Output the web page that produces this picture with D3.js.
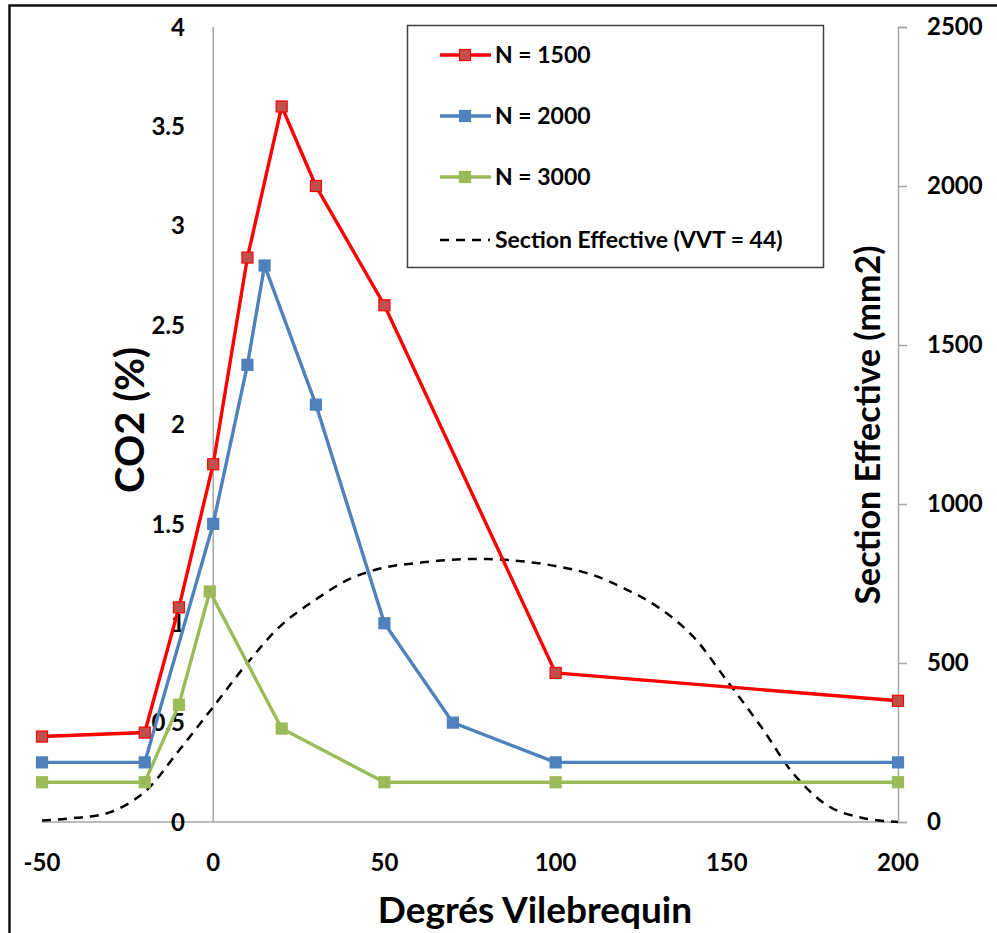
<!DOCTYPE html>
<html><head><meta charset="utf-8">
<script src="https://cdn.jsdelivr.net/npm/d3@7"></script>
<style>
body{margin:0;background:#fff;}
svg{display:block;}
text{font-family:Lato,"Open Sans",sans-serif;fill:#000;}
</style></head>
<body>
<svg id="chart" width="997" height="933"></svg>
<script>
// ---- data ----
const xTicks = [-50, 0, 50, 100, 150, 200];
const yLeftTicks = [0, 0.5, 1, 1.5, 2, 2.5, 3, 3.5, 4];
const yRightTicks = [0, 500, 1000, 1500, 2000, 2500];

const xN1500 = [-50, -20, -10, 0, 10, 20, 30, 50, 100, 200];
const yN1500 = [0.43, 0.45, 1.08, 1.80, 2.84, 3.60, 3.20, 2.60, 0.75, 0.61];
const xN2000 = [-50, -20, 0, 10, 15, 30, 50, 70, 100, 200];
const yN2000 = [0.30, 0.30, 1.50, 2.30, 2.80, 2.10, 1.00, 0.50, 0.30, 0.30];
const xN3000 = [-50, -20, -10, -1, 20, 50, 100, 200];
const yN3000 = [0.20, 0.20, 0.59, 1.16, 0.47, 0.20, 0.20, 0.20];

const xSection = [-50, -40, -30, -20, -10, 0, 10, 20, 30, 40, 50, 60, 70, 80, 90, 100, 110, 120, 130, 140, 150, 160, 170, 180, 190, 200];
const ySection = [5, 13, 31, 95, 225, 362, 500, 620, 700, 765, 800, 815, 825, 827, 820, 805, 780, 735, 675, 585, 445, 300, 145, 48, 12, 0];

const seriesNames = ["N = 1500", "N = 2000", "N = 3000", "Section Effective (VVT = 44)"];
const xTitle = "Degrés Vilebrequin";
const yLeftTitle = "CO2 (%)";
const yRightTitle = "Section Effective (mm2)";

// ---- drawing ----
const svg = d3.select("#chart");
const x = d3.scaleLinear().domain([-50, 200]).range([42, 898]);
const yL = d3.scaleLinear().domain([0, 4]).range([822, 27]);
const yR = d3.scaleLinear().domain([0, 2500]).range([822, 27]);

// outer frame
svg.append("rect").attr("x", 9.5).attr("y", 5.5).attr("width", 1000).attr("height", 1000)
  .attr("fill", "none").attr("stroke", "#111").attr("stroke-width", 2.5);

const axisColor = "#a6a6a6";
// x axis line (at y=0)
svg.append("line").attr("x1", x(-50)).attr("x2", x(200)).attr("y1", yL(0)).attr("y2", yL(0))
  .attr("stroke", axisColor).attr("stroke-width", 1.5);
// left y axis line (crosses at x=0)
svg.append("line").attr("x1", x(0)).attr("x2", x(0)).attr("y1", yL(4)).attr("y2", yL(0))
  .attr("stroke", axisColor).attr("stroke-width", 1.5);

// right axis via d3.axisRight
const rAxis = svg.append("g").attr("transform", `translate(${x(200)},0)`)
  .call(d3.axisRight(yR).tickValues(yRightTicks).tickSize(9).tickPadding(20).tickFormat(d3.format("d")));
rAxis.select(".domain").attr("stroke", axisColor).attr("stroke-width", 1.5);
rAxis.selectAll(".tick line").attr("stroke", axisColor).attr("stroke-width", 1.5);
rAxis.selectAll(".tick text").attr("font-family", "Lato, sans-serif").attr("font-size", 24)
  .attr("font-weight", "bold").attr("fill", "#000");

// left tick labels
svg.append("g").selectAll("text").data(yLeftTicks).join("text")
  .attr("x", 185).attr("y", d => yL(d)).attr("dy", "0.36em")
  .attr("text-anchor", "end").attr("font-size", 24).attr("font-weight", "bold")
  .text(d => d);

// x tick labels
svg.append("g").selectAll("text").data(xTicks).join("text")
  .attr("x", d => x(d)).attr("y", 862).attr("dy", "0.36em")
  .attr("text-anchor", "middle").attr("font-size", 24).attr("font-weight", "bold")
  .text(d => d);

// titles
svg.append("text").attr("x", 535).attr("y", 910).attr("dy", "0.36em").attr("text-anchor", "middle")
  .attr("font-size", 37).attr("font-weight", "bold").text(xTitle);
svg.append("text").attr("transform", "translate(130,420) rotate(-90)").attr("dy", "0.36em")
  .attr("text-anchor", "middle").attr("font-size", 40).attr("font-weight", "bold").text(yLeftTitle);
svg.append("text").attr("transform", "translate(868,425) rotate(-90)").attr("dy", "0.36em")
  .attr("text-anchor", "middle").attr("font-size", 34).attr("font-weight", "bold").text(yRightTitle);

// section effective dashed curve
const secData = xSection.map((v, i) => [v, ySection[i]]);
svg.append("path").datum(secData)
  .attr("d", d3.line().x(d => x(d[0])).y(d => yR(d[1])).curve(d3.curveCatmullRom.alpha(0.5)))
  .attr("fill", "none").attr("stroke", "#000").attr("stroke-width", 2.5).attr("stroke-dasharray", "9,7");

const series = [
  {xs: xN1500, ys: yN1500, line: "#ff0000", fill: "#c0504d", stroke: "#ff0000"},
  {xs: xN2000, ys: yN2000, line: "#4f81bd", fill: "#4f81bd", stroke: "#4f81bd"},
  {xs: xN3000, ys: yN3000, line: "#9bbb59", fill: "#9bbb59", stroke: "#9bbb59"}
];
const ms = 11;
// draw in reverse order so red is on top
series.slice().reverse().forEach(s => {
  const pts = s.xs.map((v, i) => [v, s.ys[i]]);
  svg.append("path").datum(pts)
    .attr("d", d3.line().x(d => x(d[0])).y(d => yL(d[1])))
    .attr("fill", "none").attr("stroke", s.line).attr("stroke-width", 3.4);
  svg.append("g").selectAll("rect").data(pts).join("rect")
    .attr("x", d => x(d[0]) - ms / 2).attr("y", d => yL(d[1]) - ms / 2)
    .attr("width", ms).attr("height", ms)
    .attr("fill", s.fill).attr("stroke", s.stroke).attr("stroke-width", 1.2);
});

// legend
const lg = svg.append("g");
lg.append("rect").attr("x", 407.5).attr("y", 25.5).attr("width", 416).attr("height", 242)
  .attr("fill", "#fff").attr("stroke", "#404040").attr("stroke-width", 1.5);
const rows = [55, 116, 177, 240];
series.forEach((s, i) => {
  lg.append("line").attr("x1", 440).attr("x2", 491).attr("y1", rows[i]).attr("y2", rows[i])
    .attr("stroke", s.line).attr("stroke-width", 3.4);
  lg.append("rect").attr("x", 465 - ms / 2).attr("y", rows[i] - ms / 2).attr("width", ms).attr("height", ms)
    .attr("fill", s.fill).attr("stroke", s.stroke).attr("stroke-width", 1.2);
});
lg.append("line").attr("x1", 440).attr("x2", 490).attr("y1", rows[3]).attr("y2", rows[3])
  .attr("stroke", "#000").attr("stroke-width", 2.5).attr("stroke-dasharray", "9,7");
seriesNames.forEach((n, i) => {
  lg.append("text").attr("x", 495).attr("y", rows[i]).attr("dy", "0.36em")
    .attr("font-size", 23).attr("font-weight", "bold").text(n);
});
</script>
</body></html>
